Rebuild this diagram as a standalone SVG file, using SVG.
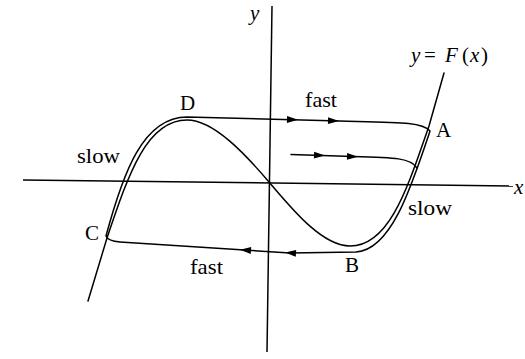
<svg xmlns="http://www.w3.org/2000/svg" xmlns:xlink="http://www.w3.org/1999/xlink" width="525" height="359" viewBox="0 0 525 359">
<style>
.ln{fill:none;stroke:#000;stroke-width:1.5;stroke-linejoin:round;stroke-linecap:round}
.ax{fill:none;stroke:#000;stroke-width:1.5}
.t{font-family:"Liberation Serif","Times New Roman",serif;font-size:21px;fill:#000}
.i{font-style:italic}
</style>
<defs>
<path id="ah" d="M0,0 L-11,-3.4 L-11,3.4 Z" fill="#000"/>
</defs>
<rect width="525" height="359" fill="#fff"/>
<g id="axes">
<line class="ax" x1="23" y1="180" x2="513" y2="186"/>
<line class="ax" x1="272" y1="6" x2="267" y2="352"/>
</g>
<g id="curve">
<path class="ln" d="M88,301 L107,238 C128,176 146,120 187,120 C214,120 246,155 269,182 C292,209 322,246 350,246 C390,246 408,186 429,126 L444,73"/>
</g>
<g id="connectors">
<path class="ln" d="M106,236 C123,173 143,117 187,117 L340,121 C400,122.5 422,122 430,131 C411,188 391,250 356,252 L290,253 L120,242 Q108,241 106,236 Z"/>
<path class="ln" d="M291,154.5 L353,156.5 C395,157.5 411,158 417,168"/>
<use xlink:href="#ah" transform="translate(298,119.8) rotate(1.5)"/>
<use xlink:href="#ah" transform="translate(339,121) rotate(1.5)"/>
<use xlink:href="#ah" transform="translate(325,155.5) rotate(1.8)"/>
<use xlink:href="#ah" transform="translate(358,156.7) rotate(1.8)"/>
<use xlink:href="#ah" transform="translate(240,249.8) rotate(183.7)"/>
<use xlink:href="#ah" transform="translate(285,252.6) rotate(183.7)"/>
</g>
<g id="labels">
<text class="t i" x="250" y="20" font-size="20">y</text>
<text class="t i" x="514" y="194" font-size="19">x</text>
<text class="t" font-size="22"><tspan class="i" x="411" y="62">y</tspan><tspan x="424" y="62">=</tspan><tspan class="i" x="445" y="62">F</tspan><tspan x="462" y="62">(</tspan><tspan class="i" x="470" y="62">x</tspan><tspan x="481" y="62">)</tspan></text>
<text class="t" x="305" y="107" textLength="32" lengthAdjust="spacingAndGlyphs">fast</text>
<text class="t" x="436" y="137">A</text>
<text class="t" x="180" y="110">D</text>
<text class="t" x="77" y="163" textLength="43" lengthAdjust="spacingAndGlyphs">slow</text>
<text class="t" x="85" y="240">C</text>
<text class="t" x="408" y="215" textLength="44" lengthAdjust="spacingAndGlyphs">slow</text>
<text class="t" x="345" y="272">B</text>
<text class="t" x="190" y="274" textLength="33" lengthAdjust="spacingAndGlyphs">fast</text>
</g>
</svg>
